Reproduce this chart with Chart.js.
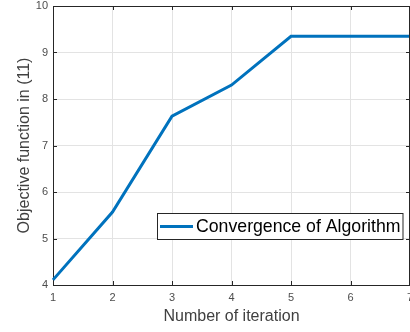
<!DOCTYPE html>
<html>
<head>
<meta charset="utf-8">
<script src="https://cdn.jsdelivr.net/npm/chart.js@4.4.1/dist/chart.umd.min.js"></script>
<style>
html,body{margin:0;padding:0;background:#fff;}
#wrap{width:410px;height:332px;}
</style>
</head>
<body>
<div id="wrap"><canvas id="c" width="410" height="332"></canvas></div>
<script>
const iterations = ['1','2','3','4','5','6','7'];
const objectiveValues = [4.11, 5.57, 7.63, 8.30, 9.35, 9.35, 9.35];
const yTicks = [4,5,6,7,8,9,10];
const seriesLabel = 'Convergence of Algorithm';
const xTitle = 'Number of iteration';
const yTitle = 'Objective function in (11)';

const FONT = "'Liberation Sans', Arial, Helvetica, sans-serif";
const AXIS = '#262626';
const LINE = '#0072BD';

const boxPlugin = {
  id: 'matlabBox',
  afterDatasetsDraw(chart) {
    const {ctx, chartArea: a, scales} = chart;
    ctx.save();
    ctx.strokeStyle = AXIS;
    ctx.lineWidth = 1;
    ctx.beginPath();
    ctx.moveTo(a.left, a.top + 0.5); ctx.lineTo(a.right, a.top + 0.5);
    ctx.moveTo(a.right - 0.5, a.top); ctx.lineTo(a.right - 0.5, a.bottom);
    ctx.stroke();
    const tl = 4;
    ctx.beginPath();
    scales.x.ticks.forEach((t, i) => {
      const px = Math.round(scales.x.getPixelForTick(i)) + 0.5;
      ctx.moveTo(px, a.bottom); ctx.lineTo(px, a.bottom - tl);
      ctx.moveTo(px, a.top); ctx.lineTo(px, a.top + tl);
    });
    scales.y.ticks.forEach((t) => {
      const py = Math.round(scales.y.getPixelForValue(t.value)) + 0.5;
      ctx.moveTo(a.left, py); ctx.lineTo(a.left + tl, py);
      ctx.moveTo(a.right, py); ctx.lineTo(a.right - tl, py);
    });
    ctx.stroke();
    ctx.restore();
  },
  afterDraw(chart) {
    const {ctx} = chart;
    const ds = chart.data.datasets[0];
    ctx.save();
    ctx.font = '17.7px ' + FONT;
    const tw = ctx.measureText(ds.label).width;
    const x0 = 157, y0 = 213, h = 26;
    const w = 39 + tw + 2;
    ctx.fillStyle = '#fff';
    ctx.fillRect(x0, y0, w, h);
    ctx.strokeStyle = '#262626';
    ctx.lineWidth = 1;
    ctx.strokeRect(x0 + 0.5, y0 + 0.5, w, h);
    ctx.strokeStyle = ds.borderColor;
    ctx.lineWidth = 3;
    ctx.beginPath();
    ctx.moveTo(x0 + 3, y0 + h / 2 + 0.5);
    ctx.lineTo(x0 + 36, y0 + h / 2 + 0.5);
    ctx.stroke();
    ctx.fillStyle = '#000';
    ctx.textBaseline = 'middle';
    ctx.textAlign = 'left';
    ctx.fillText(ds.label, x0 + 39, y0 + h / 2 + 1);
    ctx.restore();
  }
};

new Chart(document.getElementById('c'), {
  type: 'line',
  data: {
    labels: iterations,
    datasets: [{
      label: seriesLabel,
      data: objectiveValues,
      borderColor: LINE,
      backgroundColor: LINE,
      borderWidth: 3,
      pointRadius: 0,
      tension: 0,
      fill: false
    }]
  },
  options: {
    responsive: false,
    animation: false,
    devicePixelRatio: 1,
    layout: {padding: {top: 6, right: 0, left: 0, bottom: 0}},
    plugins: {legend: {display: false}, tooltip: {enabled: false}},
    scales: {
      x: {
        type: 'category',
        offset: false,
        grid: {color: '#e3e3e3', lineWidth: 1, drawTicks: false, tickLength: 0},
        border: {color: AXIS, width: 1},
        ticks: {color: '#4d4d4d', font: {family: FONT, size: 11}, padding: 6, maxRotation: 0, autoSkip: false},
        title: {display: true, text: xTitle, color: '#404040', font: {family: FONT, size: 16}, padding: {top: 5.4, bottom: 5.4}},
        afterFit(s) { s.height = 47; s.paddingLeft = 0; s.paddingRight = 0; }
      },
      y: {
        min: 4, max: 10,
        afterBuildTicks(s) { s.ticks = yTicks.map(v => ({value: v})); },
        grid: {color: '#e3e3e3', lineWidth: 1, drawTicks: false, tickLength: 0},
        border: {color: AXIS, width: 1},
        ticks: {color: '#4d4d4d', font: {family: FONT, size: 11}, padding: 5},
        title: {display: true, text: yTitle, color: '#404040', font: {family: FONT, size: 16}, padding: {top: 15.4, bottom: 15.4}},
        afterFit(s) { s.width = 53; s.paddingTop = 0; s.paddingBottom = 0; }
      }
    }
  },
  plugins: [boxPlugin]
});
</script>
</body>
</html>
